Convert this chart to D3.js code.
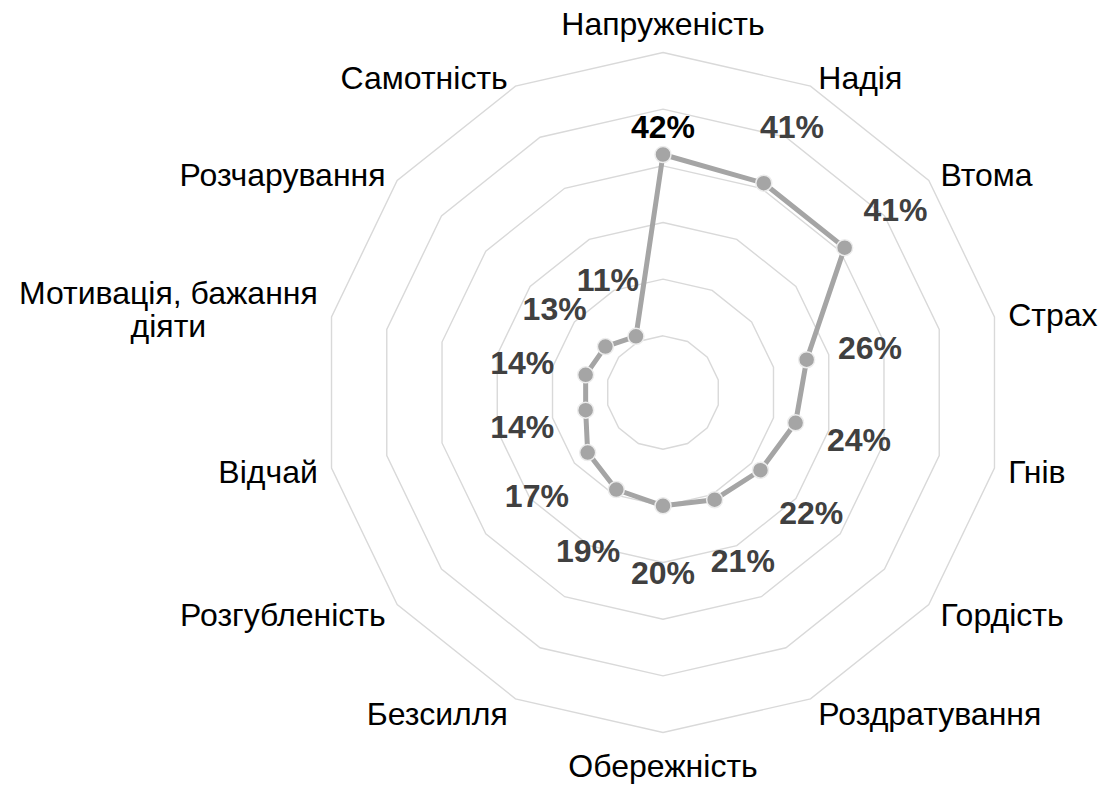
<!DOCTYPE html>
<html>
<head>
<meta charset="utf-8">
<script src="https://cdn.jsdelivr.net/npm/d3@7"></script>
<style>
  body { margin: 0; background: #fff; }
  #radar text { font-family: "Liberation Sans", Arial, sans-serif; }
</style>
</head>
<body>
<div id="radar"></div>
<script>
// categories clockwise from the top
var categories = ['Напруженість', 'Надія', 'Втома', 'Страх', 'Гнів', 'Гордість',
  'Роздратування', 'Обережність', 'Безсилля', 'Розгубленість', 'Відчай',
  'Мотивація, бажання\nдіяти', 'Розчарування', 'Самотність'];
var values = [42, 41, 41, 26, 24, 22, 21, 20, 19, 17, 14, 14, 13, 11];
var ringLevels = [10, 20, 30, 40, 50, 60];

var radar = (function(rd){
	var elemID = '#radar';

	rd.init = function(){
		var width = 1102, height = 785,
		    cx = 663, cy = 392.5, outer = 340,
		    catSize = 32, valSize = 32;

		var r = d3.scaleLinear()
			.domain([0, d3.max(ringLevels)])
			.range([0, outer]);

		var angle = d3.scaleLinear()
			.domain([0, categories.length])
			.range([0, 2 * Math.PI]);

		var svg = d3.select(elemID).append('svg')
		    .attr('width', width)
		    .attr('height', height)
		  .append('g')
		    .attr('transform', 'translate(' + cx + ',' + cy + ')');

		var idx = d3.range(categories.length);

		// grid rings (no spokes in the original)
		var ring = function(level){
			return d3.lineRadial()
				.angle(function(i){ return angle(i); })
				.radius(function(){ return r(level); })
				.curve(d3.curveLinearClosed)(idx);
		};

		svg.append('g').attr('class', 'grid')
			.selectAll('path')
			.data(ringLevels)
			.enter().append('path')
			  .attr('d', ring)
			  .style('fill', 'none')
			  .style('stroke', '#d9d9d9')
			  .style('stroke-width', 1.4);

		// the series
		var line = d3.lineRadial()
			.angle(function(d, i){ return angle(i); })
			.radius(function(d){ return r(d); })
			.curve(d3.curveLinearClosed);

		svg.append('path')
			.attr('d', line(values))
			.style('fill', 'none')
			.style('stroke', '#a5a5a5')
			.style('stroke-width', 5)
			.style('stroke-linejoin', 'round');

		var pos = function(i, rad){
			var a = angle(i);
			return [rad * Math.sin(a), -rad * Math.cos(a)];
		};

		svg.append('g').attr('class', 'points')
			.selectAll('circle')
			.data(values)
			.enter().append('circle')
			  .attr('cx', function(d, i){ return pos(i, r(d))[0]; })
			  .attr('cy', function(d, i){ return pos(i, r(d))[1]; })
			  .attr('r', 8)
			  .style('fill', '#a5a5a5')
			  .style('stroke', '#ececec')
			  .style('stroke-width', 1.5);

		// value labels, pushed outward along each axis
		svg.append('g').attr('class', 'vals')
			.selectAll('text')
			.data(values)
			.enter().append('text')
			  .attr('text-anchor', 'middle')
			  .attr('x', function(d, i){
			  	var off = i === 0 ? 28 : 65;
			  	return pos(i, r(d) + off)[0];
			  })
			  .attr('y', function(d, i){
			  	var off = i === 0 ? 28 : 65;
			  	return pos(i, r(d) + off)[1] + (i === 0 ? 0 : 2) + valSize * 0.358;
			  })
			  .style('font-size', valSize + 'px')
			  .style('font-weight', 'bold')
			  .style('fill', function(d, i){ return i === 0 ? '#000' : '#404040'; })
			  .text(function(d){ return d + '%'; });

		// category labels outside the outer ring
		var lineH = 33;
		svg.append('g').attr('class', 'cats')
			.selectAll('text')
			.data(categories)
			.enter().append('text')
			  .attr('text-anchor', 'middle')
			  .style('font-size', catSize + 'px')
			  .style('fill', '#000')
			  .each(function(name, i){
			  	var t = d3.select(this),
			  	    lines = name.split('\n'),
			  	    a = angle(i),
			  	    s = Math.sin(a), c = Math.cos(a),
			  	    v = pos(i, outer);

			  	var w = 0;
			  	lines.forEach(function(l){
			  		var ts = t.append('tspan').text(l);
			  		w = Math.max(w, ts.node().getComputedTextLength());
			  	});

			  	var x, yc;
			  	if(Math.abs(s) < 0.01){
			  		x = v[0];
			  		yc = c > 0 ? v[1] - 29 : v[1] + 33;
			  	} else {
			  		var gap = 3 + 11 * Math.abs(s);
			  		x = s > 0 ? v[0] + gap + w / 2 : v[0] - gap - w / 2;
			  		yc = v[1] - c * (c > 0 ? 10 : 16);
			  	}
			  	// two-line block sits a bit higher
			  	if(lines.length > 1) yc -= 6;
			  	var top = yc - (lines.length - 1) * lineH / 2;
			  	t.selectAll('tspan')
			  		.attr('x', x)
			  		.attr('y', function(l, j){ return top + j * lineH + catSize * 0.358; });
			  });
	};

	return rd;
})({});

radar.init();
</script>
</body>
</html>
